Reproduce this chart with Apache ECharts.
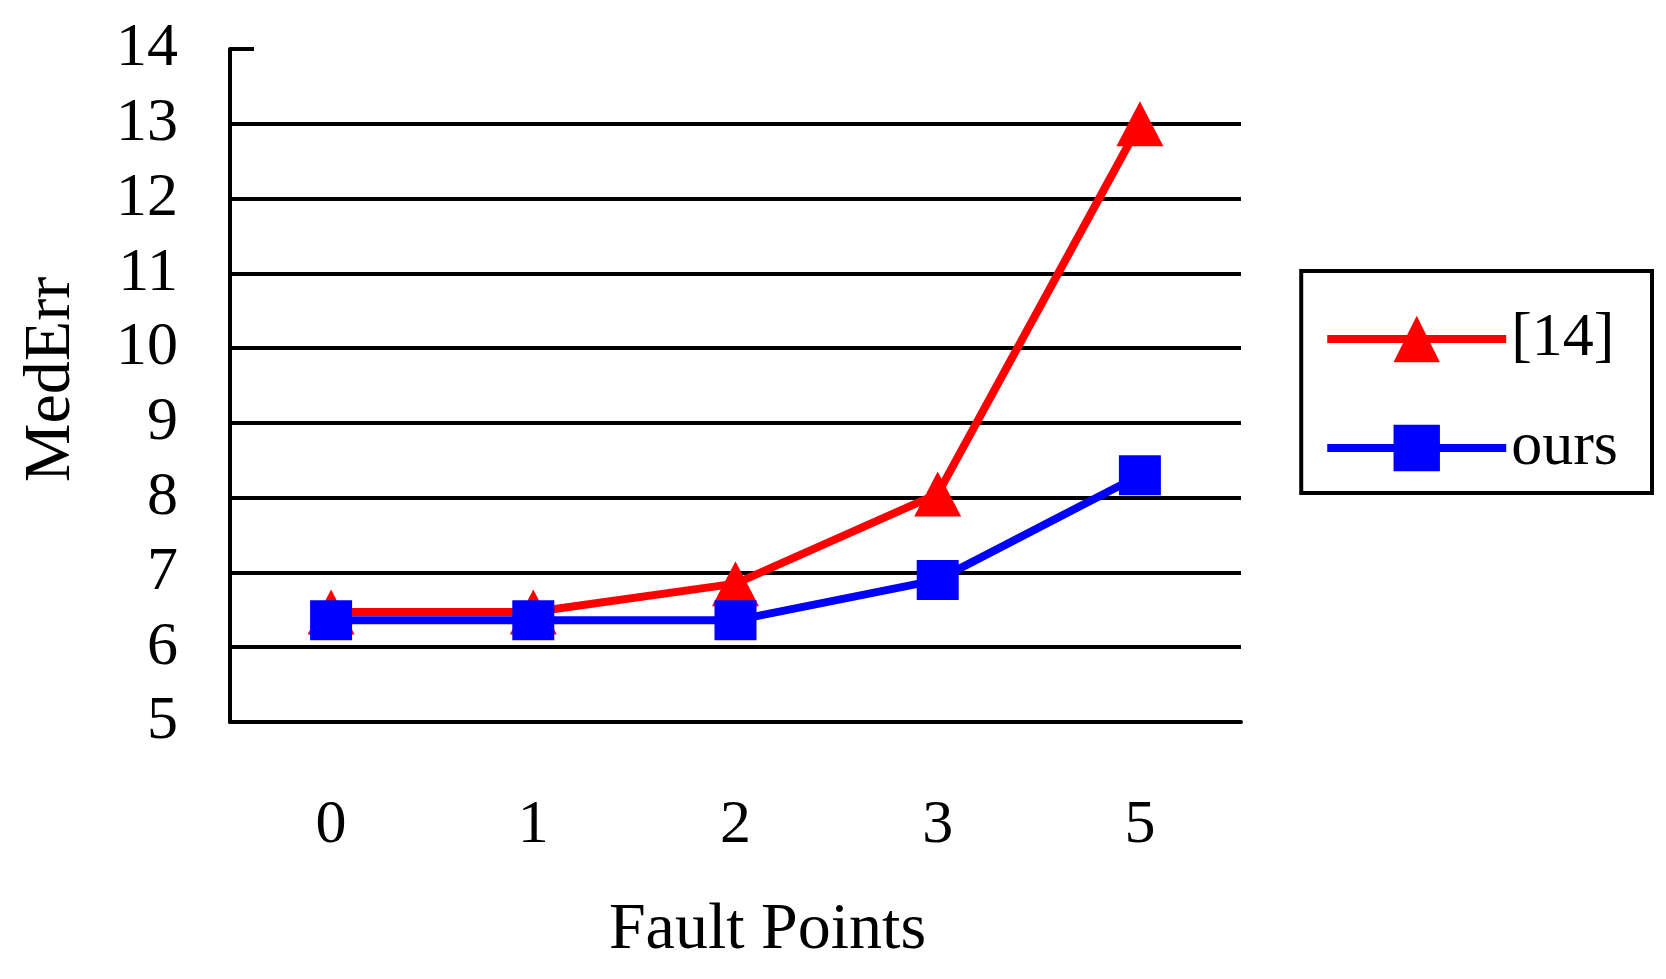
<!DOCTYPE html>
<html lang="en">

<head>
    <meta charset="UTF-8">
    <title>MedErr vs Fault Points</title>
    <script src="https://cdn.jsdelivr.net/npm/echarts@6/dist/echarts.min.js"></script>
    <style>
        html, body { margin: 0; padding: 0; background: #fff; }
    </style>
</head>

<body>
    <div id="main" style="width: 1666px;height:979px;"></div>

    <script>
        // data
        const faultPoints = ['0', '1', '2', '3', '5'];
        const ref14 = [6.47, 6.47, 6.85, 8.05, 13.0];
        const ours = [6.36, 6.36, 6.36, 6.9, 8.3];

        const serif = "'Liberation Serif', 'Times New Roman', serif";
        const myChart = echarts.init(document.getElementById('main'));

        // gridlines 6..13 black, none at 14 (the last entry)
        const gridColors = ['#000', '#000', '#000', '#000', '#000', '#000', '#000', '#000', '#000', 'rgba(0,0,0,0)'];

        const option = {
            backgroundColor: '#fff',
            animation: false,
            grid: { left: 230, right: 425, top: 49, bottom: 257 },
            legend: {
                right: 14,
                top: 271,
                orient: 'vertical',
                data: ['[14]', 'ours'],
                borderColor: '#000',
                borderWidth: 4,
                padding: [37, 34, 14, 22],
                itemGap: 47,
                itemWidth: 179,
                itemHeight: 58,
                lineStyle: { width: 8 },
                textStyle: { fontFamily: serif, fontSize: 62, color: '#000' }
            },
            xAxis: {
                type: 'category',
                data: faultPoints,
                boundaryGap: true,
                name: 'Fault Points',
                nameLocation: 'middle',
                nameGap: 176,
                nameTextStyle: { fontFamily: serif, fontSize: 66, color: '#000', padding: [0, 0, 0, 64] },
                axisLine: { lineStyle: { color: '#000', width: 4 } },
                axisTick: { inside: true, length: 24, lineStyle: { color: '#000', width: 3 } },
                axisLabel: { margin: 73, fontFamily: serif, fontSize: 62, color: '#000' }
            },
            yAxis: {
                type: 'value',
                min: 5,
                max: 14,
                interval: 1,
                name: 'MedErr',
                nameLocation: 'middle',
                nameRotate: 90,
                nameGap: 145,
                nameTextStyle: { fontFamily: serif, fontSize: 66, color: '#000', padding: [0, 0, 0, 12] },
                axisLine: { show: true, lineStyle: { color: '#000', width: 4 } },
                axisTick: { show: true, inside: true, length: 24, lineStyle: { color: '#000', width: 4 } },
                axisLabel: { margin: 52, fontFamily: serif, fontSize: 62, color: '#000' },
                splitLine: { show: true, lineStyle: { color: gridColors, width: 4 } }
            },
            series: [
                {
                    name: '[14]',
                    type: 'line',
                    data: ref14,
                    symbol: 'triangle',
                    symbolSize: [47, 45],
                    color: '#ff0000',
                    lineStyle: { color: '#ff0000', width: 8 },
                    itemStyle: { color: '#ff0000' }
                },
                {
                    name: 'ours',
                    type: 'line',
                    data: ours,
                    symbol: 'rect',
                    symbolSize: [42, 40],
                    color: '#0000ff',
                    lineStyle: { color: '#0000ff', width: 8 },
                    itemStyle: { color: '#0000ff' }
                }
            ]
        };

        myChart.setOption(option);
    </script>
</body>

</html>
